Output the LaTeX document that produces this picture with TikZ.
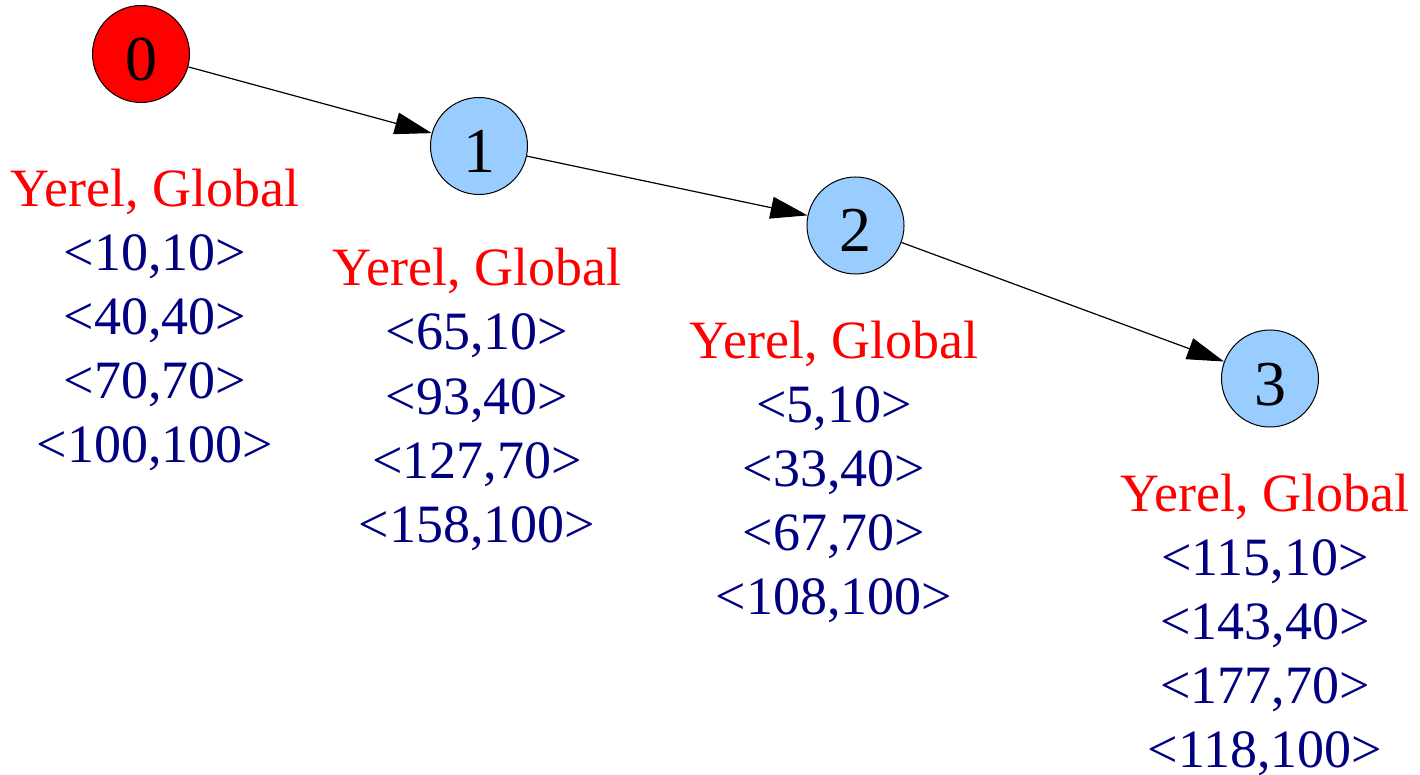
\documentclass[tikz,border=0pt]{standalone}
\usepackage{fontspec}
\setmainfont{Liberation Serif}
\usetikzlibrary{arrows.meta}
\definecolor{nodered}{HTML}{FF0000}
\definecolor{nodeblue}{HTML}{99CCFF}
\definecolor{labred}{HTML}{FF0000}
\definecolor{labnavy}{HTML}{000080}
\tikzset{
  state/.style={circle, draw=black, line width=1pt, minimum size=97pt, inner sep=0pt,
    font=\fontsize{64}{70}\selectfont, text height=53pt, text depth=0pt},
  startstate/.style={state, fill=nodered},
  plainstate/.style={state, fill=nodeblue},
  edge/.style={draw=black, line width=1.2pt, -{Triangle[length=37pt,width=22pt]}},
  infolabel/.style={anchor=base, inner sep=0pt, font=\fontsize{54}{64}\selectfont}
}
\newcommand{\infotab}[4]{\setlength{\tabcolsep}{0pt}\begin{tabular}[t]{c}\textcolor{labred}{Yerel, Global}\\\textcolor{labnavy}{#1}\\\textcolor{labnavy}{#2}\\\textcolor{labnavy}{#3}\\\textcolor{labnavy}{#4}\end{tabular}}
\begin{document}
\begin{tikzpicture}[x=1pt,y=-1pt]
\useasboundingbox (0,0) rectangle (1420,775);
\node[startstate] (n0) at (141,54) {0};
\node[plainstate] (n1) at (479,146) {1};
\node[plainstate] (n2) at (855.5,225.5) {2};
\node[plainstate] (n3) at (1270,378.5) {3};
\draw[edge] (n0) -- (n1);
\draw[edge] (n1) -- (n2);
\draw[edge] (n2) -- (n3);
\node[infolabel] (l0) at (155,207) {\infotab{<10,10>}{<40,40>}{<70,70>}{<100,100>}};
\node[infolabel] (l1) at (477,286) {\infotab{<65,10>}{<93,40>}{<127,70>}{<158,100>}};
\node[infolabel] (l2) at (834,358) {\infotab{<5,10>}{<33,40>}{<67,70>}{<108,100>}};
\node[infolabel] (l3) at (1265,511) {\infotab{<115,10>}{<143,40>}{<177,70>}{<118,100>}};
\end{tikzpicture}
\end{document}
